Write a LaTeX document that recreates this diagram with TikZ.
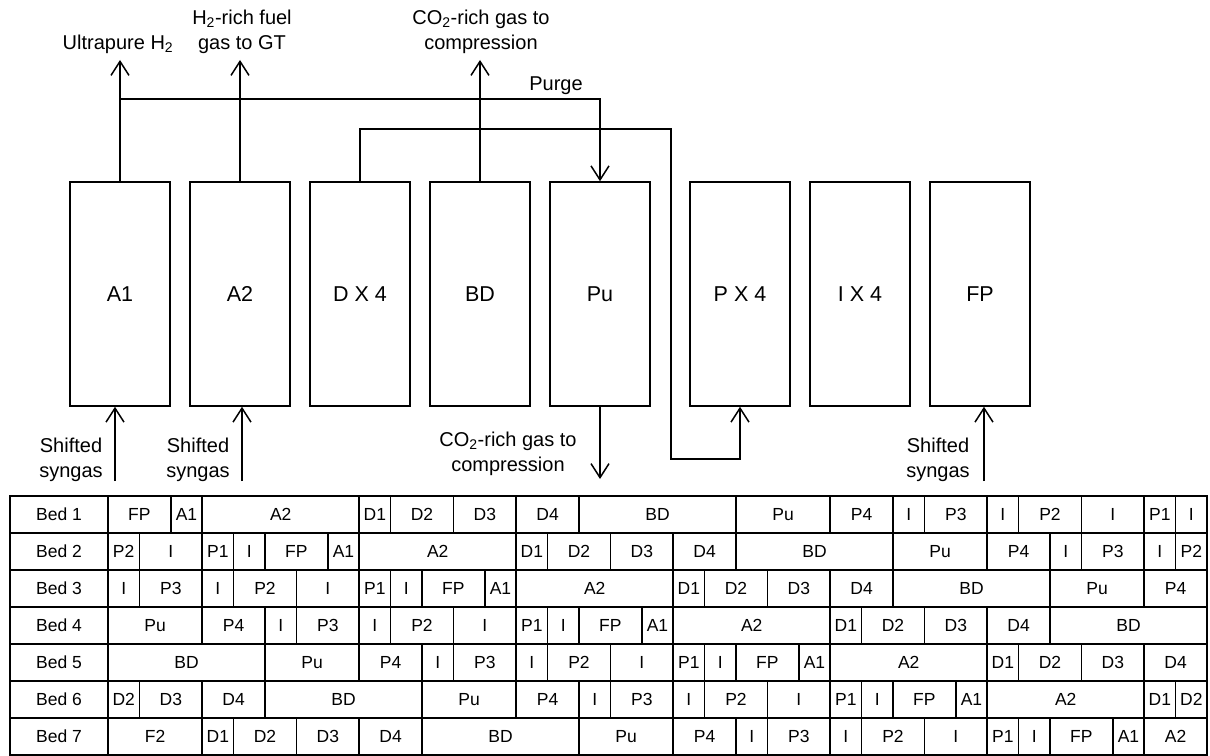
\documentclass[tikz,border=0pt]{standalone}
\usepackage{fontspec}
\setmainfont{Liberation Sans}
\usetikzlibrary{arrows.meta}

\tikzset{
  vessel/.style={draw, line width=1.5bp, minimum width=100bp, minimum height=224bp,
    inner sep=0pt, font=\fontsize{21.5bp}{25bp}\selectfont},
  streamlbl/.style={align=center, inner sep=0pt, font=\fontsize{20bp}{25bp}\selectfont},
  flow/.style={line width=1.5bp, -{Straight Barb[length=14bp,width=18bp]}},
  slot/.style={draw, line width=1.5bp, minimum height=37bp, inner sep=0pt,
    font=\fontsize{17.5bp}{20bp}\selectfont},
}

\begin{document}
\begin{tikzpicture}[x=1bp,y=-1bp]
  \useasboundingbox (0,0) rectangle (1210,756);

  % the beds, one per step
  \node[vessel] (A1) at (120,294) {A1};
  \node[vessel] (A2) at (240,294) {A2};
  \node[vessel] (D)  at (360,294) {D X 4};
  \node[vessel] (BD) at (480,294) {BD};
  \node[vessel] (Pu) at (600,294) {Pu};
  \node[vessel] (P)  at (740,294) {P X 4};
  \node[vessel] (I)  at (860,294) {I X 4};
  \node[vessel] (FP) at (980,294) {FP};

  % stream labels
  \node[streamlbl, anchor=south] (ultra) at (118,54) {Ultrapure H\textsubscript{2}};
  \node[streamlbl, anchor=south] (fuel) at (242,54) {H\textsubscript{2}-rich fuel\\gas to GT};
  \node[streamlbl, anchor=south] (co2up) at (481,54) {CO\textsubscript{2}-rich gas to\\compression};
  \node[streamlbl, anchor=base] (purge) at (556,91) {Purge};
  \node[streamlbl, anchor=south] (co2dn) at (508,476) {CO\textsubscript{2}-rich gas to\\compression};
  \node[streamlbl, anchor=south] (syn1) at (71,482) {Shifted\\syngas};
  \node[streamlbl, anchor=south] (syn2) at (198,482) {Shifted\\syngas};
  \node[streamlbl, anchor=south] (syn3) at (938,482) {Shifted\\syngas};

  \coordinate (outA1) at (120,60);
  \coordinate (outA2) at (240,60);
  \coordinate (outBD) at (480,60);
  \coordinate (tap) at (120,99);
  \coordinate (dTop) at (671,129);
  \coordinate (dLow) at (671,459);
  \coordinate (outPu) at (600,479);
  \coordinate (inA1) at (115,481);
  \coordinate (inA2) at (242,481);
  \coordinate (inFP) at (984,481);

  \draw[flow] (A1.north) -- (outA1);
  \draw[flow] (A2.north) -- (outA2);
  \draw[flow] (BD.north) -- (outBD);
  \draw[flow] (tap) -| (Pu.north);
  \draw[flow] (D.north) |- (dTop) -- (dLow) -| (P.south);
  \draw[flow] (Pu.south) -- (outPu);
  \draw[flow] (inA1) -- (inA1 |- A1.south);
  \draw[flow] (inA2) -- (inA2 |- A2.south);
  \draw[flow] (inFP) -- (inFP |- FP.south);

  % cycle schedule, 35 time slots
  \foreach \r/\cells in {
    1/{0/2/FP,2/3/A1,3/8/A2,8/9/D1,9/11/D2,11/13/D3,13/15/D4,15/20/BD,20/23/Pu,23/25/P4,25/26/I,26/28/P3,28/29/I,29/31/P2,31/33/I,33/34/P1,34/35/I},
    2/{0/1/P2,1/3/I,3/4/P1,4/5/I,5/7/FP,7/8/A1,8/13/A2,13/14/D1,14/16/D2,16/18/D3,18/20/D4,20/25/BD,25/28/Pu,28/30/P4,30/31/I,31/33/P3,33/34/I,34/35/P2},
    3/{0/1/I,1/3/P3,3/4/I,4/6/P2,6/8/I,8/9/P1,9/10/I,10/12/FP,12/13/A1,13/18/A2,18/19/D1,19/21/D2,21/23/D3,23/25/D4,25/30/BD,30/33/Pu,33/35/P4},
    4/{0/3/Pu,3/5/P4,5/6/I,6/8/P3,8/9/I,9/11/P2,11/13/I,13/14/P1,14/15/I,15/17/FP,17/18/A1,18/23/A2,23/24/D1,24/26/D2,26/28/D3,28/30/D4,30/35/BD},
    5/{0/5/BD,5/8/Pu,8/10/P4,10/11/I,11/13/P3,13/14/I,14/16/P2,16/18/I,18/19/P1,19/20/I,20/22/FP,22/23/A1,23/28/A2,28/29/D1,29/31/D2,31/33/D3,33/35/D4},
    6/{0/1/D2,1/3/D3,3/5/D4,5/10/BD,10/13/Pu,13/15/P4,15/16/I,16/18/P3,18/19/I,19/21/P2,21/23/I,23/24/P1,24/25/I,25/27/FP,27/28/A1,28/33/A2,33/34/D1,34/35/D2},
    7/{0/3/F2,3/4/D1,4/6/D2,6/8/D3,8/10/D4,10/15/BD,15/18/Pu,18/20/P4,20/21/I,21/23/P3,23/24/I,24/26/P2,26/28/I,28/29/P1,29/30/I,30/32/FP,32/33/A1,33/35/A2}} {
    \node[slot, minimum width=98bp] (bed\r) at (59,{477.5+37*\r}) {Bed \r};
    \foreach \s/\e/\t [count=\k] in \cells
      \node[slot, minimum width={(\e-\s)*31.4bp}] (b\r-\k) at ({108+(\s+\e)*15.7},{477.5+37*\r}) {\t};
  }
\end{tikzpicture}
\end{document}
